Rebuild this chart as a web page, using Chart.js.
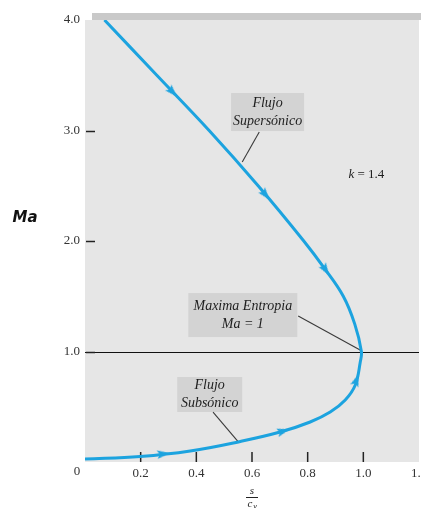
<!DOCTYPE html>
<html>
<head>
<meta charset="utf-8">
<script src="https://cdn.jsdelivr.net/npm/chart.js@4.4.0/dist/chart.umd.min.js"></script>
<style>
  html, body { margin: 0; padding: 0; background: #ffffff; overflow: hidden; width: 421px; height: 508px; }
  #wrap { position: relative; width: 440px; height: 508px; }
</style>
</head>
<body>
<div id="wrap"><canvas id="fanno"></canvas></div>
<script>
// Fanno line, k = 1.4: entropy s/cv against Mach number
// supersonic branch from Ma = 4 down to Ma = 1, then the subsonic branch back down to Ma -> 0
const entropy = [0.07, 0.258, 0.446, 0.622, 0.786, 0.861, 0.928, 0.969, 0.993,
                 0.989, 0.971, 0.935, 0.881, 0.809, 0.701, 0.558, 0.378, 0.198, 0.0];
const mach    = [4.0, 3.5, 3.0, 2.5, 2.0, 1.75, 1.5, 1.25, 1.0,
                 0.905, 0.697, 0.561, 0.452, 0.362, 0.271, 0.186, 0.100, 0.050, 0.027];

// flow-direction arrowheads along the curve
const arrowEntropy = [0.314, 0.648, 0.864, 0.975, 0.712, 0.281];
const arrowMach    = [3.35, 2.42, 1.74, 0.74, 0.279, 0.073];
const arrowHeading = [136, 141, 147, 20, 74, 83];   // degrees, 0 = pointing up

const xTicks = [0, 0.2, 0.4, 0.6, 0.8, 1.0, 1.2];
const xTickLabels = ['', '0.2', '0.4', '0.6', '0.8', '1.0', '1.2'];
const yTicks = [0, 1, 2, 3, 4];
const yTickLabels = ['', '1.0', '2.0', '3.0', '4.0'];

const CURVE = '#1ca3df';
const SERIF = "'Liberation Serif', 'Times New Roman', serif";

// callout boxes: centre in data units, size in px
const callouts = [
  { s: 0.656, ma: 3.167, w: 73, h: 38, lines: ['Flujo', 'Supersónico'],
    lead: [[0.626, 2.986], [0.565, 2.715]] },
  { s: 0.567, ma: 1.33, w: 109, h: 44, lines: ['Maxima Entropia', 'Ma = 1'],
    lead: [[0.766, 1.321], [0.99, 1.012]] },
  { s: 0.448, ma: 0.611, w: 65, h: 35, lines: ['Flujo', 'Subsónico'],
    lead: [[0.460, 0.452], [0.550, 0.185]] }
];

// arrowhead glyph, apex up
function makeArrow() {
  const c = document.createElement('canvas');
  c.width = 9; c.height = 13;
  const g = c.getContext('2d');
  g.fillStyle = CURVE;
  g.beginPath();
  g.moveTo(4.5, 0);
  g.lineTo(8.8, 12.5);
  g.lineTo(4.5, 10);
  g.lineTo(0.2, 12.5);
  g.closePath();
  g.fill();
  return c;
}
const arrowGlyph = makeArrow();

const decor = {
  id: 'decor',
  beforeDraw(chart) {
    const { ctx, chartArea: a } = chart;
    ctx.save();
    ctx.fillStyle = '#e6e6e6';
    ctx.fillRect(a.left, a.top, a.right - a.left, a.bottom - a.top);
    // shaded strip above the plot
    ctx.fillStyle = '#c9c9c9';
    ctx.fillRect(a.left + 7, a.top - 7, chart.width - a.left - 7, 7);
    ctx.restore();
  },
  beforeDatasetsDraw(chart) {
    const { ctx, chartArea: a, scales: { x, y } } = chart;
    ctx.save();
    // Ma = 1 reference line
    ctx.strokeStyle = '#111';
    ctx.lineWidth = 1;
    const y1 = Math.round(y.getPixelForValue(1)) + 0.5;
    ctx.beginPath(); ctx.moveTo(a.left, y1); ctx.lineTo(a.right, y1); ctx.stroke();

    // inward tick marks
    ctx.strokeStyle = '#222';
    ctx.lineWidth = 1.5;
    [1, 2, 3].forEach(v => {
      const py = Math.round(y.getPixelForValue(v)) + 0.5;
      ctx.beginPath(); ctx.moveTo(a.left + 1, py); ctx.lineTo(a.left + 10, py); ctx.stroke();
    });
    [0.2, 0.4, 0.6, 0.8, 1.0].forEach(v => {
      const px = x.getPixelForValue(v);
      ctx.beginPath(); ctx.moveTo(px, a.bottom - 10); ctx.lineTo(px, a.bottom); ctx.stroke();
    });

    // callouts
    callouts.forEach(c => {
      const cx = x.getPixelForValue(c.s), cy = y.getPixelForValue(c.ma);
      ctx.fillStyle = '#d3d3d3';
      ctx.fillRect(cx - c.w / 2, cy - c.h / 2, c.w, c.h);
      ctx.fillStyle = '#1e1e1e';
      ctx.font = 'italic 14px ' + SERIF;
      ctx.textAlign = 'center';
      ctx.textBaseline = 'middle';
      const gap = 18;
      c.lines.forEach((t, i) => {
        ctx.fillText(t, cx, cy + (i - (c.lines.length - 1) / 2) * gap);
      });
      ctx.strokeStyle = '#3a3a3a';
      ctx.lineWidth = 1.1;
      ctx.beginPath();
      ctx.moveTo(x.getPixelForValue(c.lead[0][0]), y.getPixelForValue(c.lead[0][1]));
      ctx.lineTo(x.getPixelForValue(c.lead[1][0]), y.getPixelForValue(c.lead[1][1]));
      ctx.stroke();
    });

    // ratio of specific heats
    const kx = x.getPixelForValue(1.011), ky = y.getPixelForValue(2.597);
    ctx.fillStyle = '#1e1e1e';
    ctx.textBaseline = 'middle';
    ctx.textAlign = 'left';
    ctx.font = 'italic 13px ' + SERIF;
    const kw = ctx.measureText('k').width;
    ctx.font = '13px ' + SERIF;
    const rest = ' = 1.4';
    const rw = ctx.measureText(rest).width;
    const start = kx - (kw + rw) / 2;
    ctx.font = 'italic 13px ' + SERIF;
    ctx.fillText('k', start, ky);
    ctx.font = '13px ' + SERIF;
    ctx.fillText(rest, start + kw, ky);
    ctx.restore();
  },
  afterDraw(chart) {
    const { ctx, chartArea: a, scales: { x } } = chart;
    ctx.save();
    ctx.fillStyle = '#333';
    ctx.font = '13px ' + SERIF;
    ctx.textAlign = 'center';
    ctx.textBaseline = 'middle';
    ctx.fillText('0', a.left - 8, a.bottom + 10);

    // y-axis title
    ctx.fillStyle = '#111';
    ctx.font = "italic bold 15px 'DejaVu Sans', 'Liberation Sans', sans-serif";
    ctx.fillText('Ma', 25, 218);

    // x-axis title s / c_v
    const mx = x.getPixelForValue(0.6);
    ctx.font = 'italic 11px ' + SERIF;
    ctx.fillStyle = '#222';
    ctx.fillText('s', mx, a.bottom + 29);
    ctx.strokeStyle = '#222';
    ctx.lineWidth = 1;
    ctx.beginPath(); ctx.moveTo(mx - 6, a.bottom + 35.5); ctx.lineTo(mx + 6, a.bottom + 35.5); ctx.stroke();
    ctx.fillText('c', mx - 2, a.bottom + 42);
    ctx.font = 'italic 8px ' + SERIF;
    ctx.fillText('v', mx + 3, a.bottom + 45);
    ctx.restore();
  }
};

new Chart(document.getElementById('fanno'), {
  type: 'scatter',
  data: {
    datasets: [
      {
        label: 'flow direction',
        data: arrowEntropy.map((s, i) => ({ x: s, y: arrowMach[i] })),
        showLine: false,
        pointStyle: arrowGlyph,
        pointRadius: 6,
        pointRotation: arrowHeading,
        order: 0
      },
      {
        label: 'Fanno line',
        data: entropy.map((s, i) => ({ x: s, y: mach[i] })),
        showLine: true,
        borderColor: CURVE,
        borderWidth: 3,
        pointRadius: 0,
        tension: 0.4,
        fill: false,
        order: 1
      }
    ]
  },
  options: {
    responsive: true,
    maintainAspectRatio: false,
    animation: false,
    layout: { padding: { top: 20, right: 21, left: 0, bottom: 0 } },
    plugins: { legend: { display: false }, tooltip: { enabled: false } },
    scales: {
      x: {
        type: 'linear', min: 0, max: 1.2,
        afterBuildTicks: s => { s.ticks = xTicks.map(v => ({ value: v })); },
        afterFit: s => { s.height = 46; },
        ticks: {
          callback: (v, i) => xTickLabels[i],
          color: '#333', padding: 4, maxRotation: 0, autoSkip: false,
          font: { family: SERIF, size: 13 }
        },
        grid: { display: false, drawTicks: false },
        border: { display: false }
      },
      y: {
        type: 'linear', min: 0, max: 4,
        afterBuildTicks: s => { s.ticks = yTicks.map(v => ({ value: v })); },
        afterFit: s => { s.width = 85; },
        ticks: {
          callback: (v, i) => yTickLabels[i],
          color: '#333', padding: 5, autoSkip: false,
          font: { family: SERIF, size: 13 }
        },
        grid: { display: false, drawTicks: false },
        border: { display: false }
      }
    }
  },
  plugins: [decor]
});
</script>
</body>
</html>
